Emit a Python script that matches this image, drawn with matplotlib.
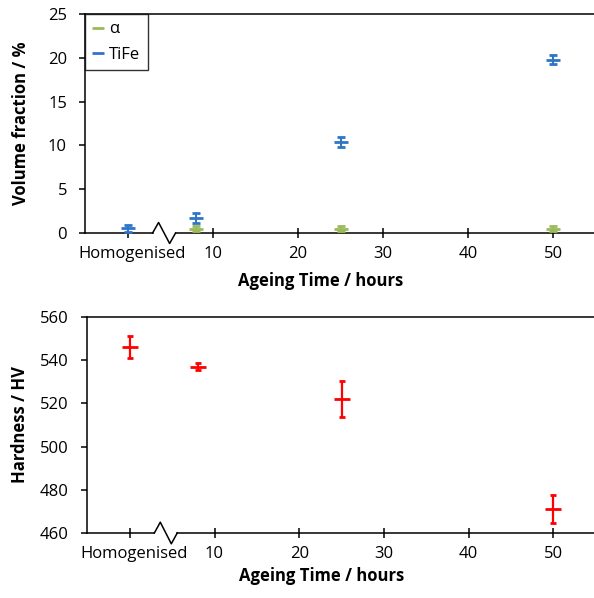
import matplotlib.pyplot as plt
from matplotlib.lines import Line2D
import matplotlib.transforms as mtransforms

plt.rcParams['font.family'] = ['Open Sans', 'DejaVu Sans']

# ageing times (0 = homogenised)
times = [0, 8, 25, 50]
alpha_times = [8, 25, 50]
alpha_frac = [0.5, 0.5, 0.5]
alpha_err = [0.3, 0.3, 0.3]
tife_frac = [0.55, 1.7, 10.4, 19.8]
tife_err = [0.4, 0.6, 0.55, 0.5]
hardness = [546, 537, 522, 471]
hardness_err = [5, 1.5, 8.5, 6.5]

xticks = [0, 10, 20, 30, 40, 50]
xticklabels = ['Homogenised', '10', '20', '30', '40', '50']

green = '#9BBB59'
blue = '#2E75C8'
red = '#FF0000'

fig = plt.figure(figsize=(5.94, 5.98), dpi=100)
ax1 = fig.add_axes([0.1431, 0.6104, 0.8569, 0.3662])
ax2 = fig.add_axes([0.1465, 0.1087, 0.8535, 0.3612])


def break_axis(ax, h):
    # draw the bottom spine with a zigzag break
    trans = mtransforms.blended_transform_factory(ax.transData, ax.transAxes)
    ax.spines['bottom'].set_visible(False)
    ax.plot([-5.1, 2.9], [0, 0], color='black', lw=1.1, transform=trans, clip_on=False)
    ax.plot([2.9, 3.6, 4.9, 5.6], [0, h, -h, 0], color='black', lw=1.1,
            transform=trans, clip_on=False)
    ax.plot([5.6, 56], [0, 0], color='black', lw=1.1, transform=trans, clip_on=False)


def style(ax, xlab_y, ylab_x):
    ax.set_xlim(-5.05, 54.8)
    ax.set_xticks(xticks)
    ax.set_xticklabels(xticklabels)
    ax.spines['right'].set_visible(False)
    ax.spines['top'].set_linewidth(1.1)
    ax.spines['left'].set_linewidth(1.1)
    ax.tick_params(axis='x', direction='inout', length=7, width=1.1, labelsize=12, pad=6)
    ax.tick_params(axis='y', direction='out', length=4, width=1.1, labelsize=12, pad=9)
    # nudge the "Homogenised" label a little to the right
    lab = ax.get_xticklabels()[0]
    lab.set_transform(lab.get_transform() + mtransforms.ScaledTranslation(4 / 100, 0, fig.dpi_scale_trans))
    ax.set_xlabel('Ageing Time / hours', fontsize=12, fontweight='bold')
    ax.xaxis.set_label_coords(0.462, xlab_y)
    ax.yaxis.set_label_coords(ylab_x, 0.5)


# top: volume fraction
ax1.errorbar(alpha_times, alpha_frac, yerr=alpha_err, fmt='_', color=green,
             markersize=9.5, mew=2, elinewidth=1.5, capsize=2.9, capthick=1.6, clip_on=False, zorder=3)
ax1.errorbar(times, tife_frac, yerr=tife_err, fmt='_', color=blue,
             markersize=9.5, mew=2, elinewidth=1.5, capsize=2.9, capthick=1.6, clip_on=False, zorder=3)
ax1.set_ylim(0, 25)
ax1.set_yticks([0, 5, 10, 15, 20, 25])
ax1.set_ylabel('Volume fraction / %', fontsize=12, fontweight='bold')
style(ax1, -0.178, -0.108)
break_axis(ax1, 0.048)
handles = [Line2D([], [], ls='none', marker='_', color=green, markersize=9, mew=2),
           Line2D([], [], ls='none', marker='_', color=blue, markersize=9, mew=2)]
leg = ax1.legend(handles, ['α', 'TiFe'], loc='upper left', bbox_to_anchor=(0, 1),
                 fontsize=12, frameon=True, fancybox=False, edgecolor='black',
                 borderaxespad=0, handlelength=0.6, handletextpad=0.4,
                 borderpad=0.45, labelspacing=0.55)
leg.get_frame().set_linewidth(1.0)

# bottom: hardness
ax2.errorbar(times, hardness, yerr=hardness_err, fmt='_', color=red,
             markersize=12, mew=2, elinewidth=1.6, capsize=2.5, capthick=1.6, zorder=3)
ax2.set_ylim(460, 560)
ax2.set_yticks([460, 480, 500, 520, 540, 560])
ax2.set_ylabel('Hardness / HV', fontsize=12, fontweight='bold')
style(ax2, -0.157, -0.114)
break_axis(ax2, 0.05)

fig.savefig('out.png', dpi=100)
